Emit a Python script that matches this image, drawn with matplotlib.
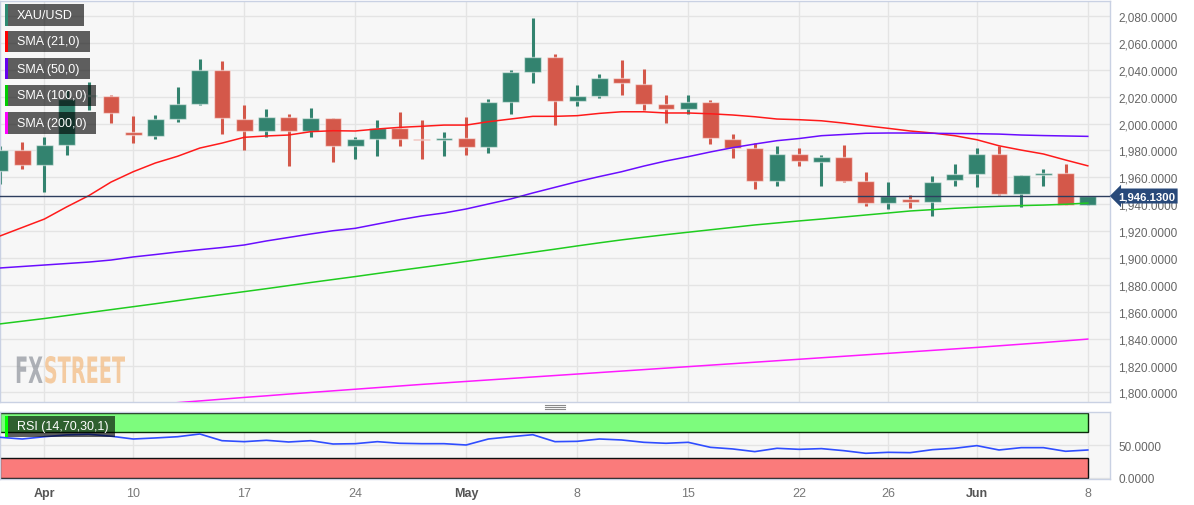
import matplotlib
matplotlib.use("Agg")
import matplotlib.pyplot as plt
from matplotlib.patches import Rectangle, PathPatch
from matplotlib.lines import Line2D
from matplotlib.textpath import TextPath
from matplotlib.font_manager import FontProperties
from matplotlib.transforms import Affine2D, IdentityTransform

# ---------------- data ----------------
dates = ['Mar 30', 'Mar 31', 'Apr 3', 'Apr 4', 'Apr 5', 'Apr 6', 'Apr 10', 'Apr 11', 'Apr 12', 'Apr 13',
         'Apr 14', 'Apr 17', 'Apr 18', 'Apr 19', 'Apr 20', 'Apr 21', 'Apr 24', 'Apr 25', 'Apr 26', 'Apr 27',
         'Apr 28', 'May 1', 'May 2', 'May 3', 'May 4', 'May 5', 'May 8', 'May 9', 'May 10', 'May 11',
         'May 12', 'May 15', 'May 16', 'May 17', 'May 18', 'May 19', 'May 22', 'May 23', 'May 24', 'May 25',
         'May 26', 'May 29', 'May 30', 'May 31', 'Jun 1', 'Jun 2', 'Jun 5', 'Jun 6', 'Jun 7', 'Jun 8']

opens = [1964.7, 1980.0, 1968.9, 1984.2, 2020.3, 2020.3, 1993.8, 1991.1, 2003.5, 2014.6,
         2039.5, 2003.7, 1994.8, 2004.9, 1994.8, 2004.2, 1983.0, 1988.6, 1997.0, 1988.6,
         1987.9, 1989.6, 1982.5, 2016.3, 2038.5, 2049.6, 2016.5, 2020.7, 2033.8, 2029.4,
         2014.6, 2010.6, 2016.1, 1988.6, 1981.5, 1957.5, 1977.5, 1971.6, 1974.8, 1957.0,
         1941.2, 1944.2, 1941.8, 1958.0, 1962.5, 1977.3, 1947.7, 1961.7, 1963.5, 1939.8]
highs = [1983.2, 1986.4, 1989.9, 2024.7, 2030.9, 2021.0, 2005.9, 2006.7, 2027.4, 2048.2,
         2046.7, 2014.1, 2011.1, 2007.4, 2011.9, 2004.4, 1990.4, 2003.0, 2008.9, 2003.0,
         1994.1, 2005.2, 2018.5, 2040.0, 2078.5, 2051.9, 2028.9, 2037.0, 2047.4, 2040.7,
         2021.5, 2021.5, 2017.8, 1992.6, 1985.2, 1983.7, 1981.5, 1977.0, 1984.4, 1963.7,
         1956.5, 1947.1, 1961.0, 1970.1, 1982.2, 1983.2, 1962.0, 1966.0, 1969.6, 1946.5]
lows = [1955.3, 1966.4, 1949.1, 1976.5, 2009.9, 2000.3, 1985.2, 1988.6, 2001.0, 2013.6,
        1991.9, 1980.7, 1990.1, 1968.4, 1989.9, 1971.1, 1973.3, 1975.8, 1983.2, 1973.3,
        1975.8, 1976.5, 1978.0, 2006.9, 2029.9, 1998.8, 2013.3, 2018.8, 2021.0, 2010.4,
        2000.3, 2006.9, 1984.7, 1974.3, 1951.4, 1953.6, 1968.4, 1953.6, 1956.5, 1938.8,
        1936.3, 1937.5, 1931.4, 1953.6, 1952.9, 1946.9, 1938.1, 1953.6, 1939.8, 1939.5]
closes = [1980.0, 1968.9, 1984.0, 2018.3, 2021.0, 2007.7, 1991.4, 2003.5, 2014.6, 2039.5,
          2004.2, 1994.8, 2004.9, 1994.8, 2004.4, 1983.0, 1988.6, 1997.0, 1988.6, 1987.7,
          1989.6, 1982.5, 2016.3, 2038.5, 2049.6, 2016.5, 2020.7, 2033.8, 2029.9, 2014.6,
          2010.6, 2016.1, 1989.1, 1981.7, 1957.5, 1977.5, 1971.9, 1974.8, 1957.0, 1941.2,
          1946.2, 1941.8, 1956.5, 1962.3, 1977.3, 1947.7, 1961.5, 1963.5, 1939.8, 1946.13]

sma21 = [1916.4, 1922.7, 1929.0, 1938.0, 1946.4, 1956.5, 1964.2, 1970.7, 1975.7, 1981.8,
         1985.5, 1989.8, 1990.8, 1991.5, 1994.0, 1994.7, 1994.5, 1996.0, 1997.2, 1998.0,
         1998.9, 1998.9, 2001.4, 2003.4, 2005.4, 2005.4, 2005.9, 2007.6, 2008.8, 2008.8,
         2007.9, 2007.9, 2007.3, 2006.4, 2005.1, 2003.4, 2002.9, 2002.1, 2000.4, 1998.4,
         1996.5, 1994.5, 1993.0, 1991.0, 1988.0, 1983.5, 1980.3, 1977.4, 1972.9, 1968.6]
sma50 = [1892.6, 1893.7, 1894.8, 1895.9, 1897.0, 1898.5, 1900.8, 1902.6, 1904.5, 1906.2,
         1907.8, 1909.7, 1912.7, 1915.3, 1917.9, 1920.3, 1922.1, 1925.3, 1928.5, 1931.3,
         1933.5, 1936.5, 1940.2, 1943.9, 1948.4, 1952.6, 1956.8, 1960.6, 1964.2, 1968.4,
         1972.2, 1975.4, 1978.9, 1982.1, 1984.8, 1987.3, 1988.9, 1991.0, 1991.9, 1992.8,
         1993.0, 1993.0, 1992.8, 1992.6, 1992.5, 1992.2, 1991.5, 1991.1, 1990.8, 1990.5]
sma100 = [1851.0, 1853.0, 1855.0, 1857.2, 1859.4, 1861.6, 1863.8, 1866.0, 1868.3, 1870.6,
          1872.8, 1875.0, 1877.2, 1879.5, 1881.8, 1884.0, 1886.2, 1888.5, 1890.8, 1893.0,
          1895.2, 1897.5, 1899.8, 1902.0, 1904.3, 1906.6, 1909.0, 1911.3, 1913.5, 1915.5,
          1917.4, 1919.2, 1921.0, 1922.8, 1924.6, 1926.1, 1927.6, 1929.0, 1930.5, 1932.0,
          1933.5, 1935.0, 1936.0, 1937.0, 1937.8, 1938.5, 1939.0, 1939.4, 1940.0, 1940.9]
sma200 = [1782.5, 1783.8, 1785.1, 1786.4, 1787.7, 1789.0, 1790.1, 1791.2, 1792.4, 1793.7,
          1795.0, 1796.3, 1797.5, 1798.8, 1800.0, 1801.2, 1802.4, 1803.6, 1804.8, 1806.0,
          1807.1, 1808.2, 1809.3, 1810.4, 1811.5, 1812.6, 1813.7, 1814.8, 1815.9, 1817.0,
          1818.1, 1819.2, 1820.3, 1821.4, 1822.5, 1823.6, 1824.7, 1825.8, 1826.9, 1828.0,
          1829.1, 1830.2, 1831.3, 1832.4, 1833.5, 1834.7, 1835.9, 1837.1, 1838.4, 1839.7]
rsi = [62.3, 59.7, 63.2, 66.0, 67.0, 64.0, 59.7, 61.3, 63.2, 67.4,
       57.1, 55.6, 57.7, 55.1, 57.1, 52.0, 52.5, 55.6, 53.1, 52.5,
       52.5, 50.5, 59.7, 63.2, 66.3, 55.6, 56.1, 59.7, 58.2, 54.6,
       53.1, 54.6, 46.9, 44.4, 40.3, 45.4, 43.8, 44.9, 41.8, 37.7,
       39.2, 38.7, 43.3, 45.4, 49.5, 42.8, 46.4, 46.4, 40.8, 42.8]

tick_dates = ['Apr 3', 'Apr 10', 'Apr 17', 'Apr 24', 'May 1', 'May 8', 'May 15', 'May 22', 'May 26', 'Jun 1', 'Jun 8']
tick_labels = ['Apr', '10', '17', '24', 'May', '8', '15', '22', '26', 'Jun', '8']
bold_labels = ['Apr', 'May', 'Jun']
price_ticks = list(range(1800, 2081, 20))
last_price = 1946.13
legend_items = ['XAU/USD', 'SMA (21,0)', 'SMA (50,0)', 'SMA (100,0)', 'SMA (200,0)']
rsi_label = 'RSI (14,70,30,1)'

# ---------------- style ----------------
W, H = 1194, 506
GREEN = '#33836f'
RED = '#d4584a'
BG = '#f7f7f7'
GRID = '#e4e4e4'
SPINE = '#c9d1e3'
plt.rcParams['font.family'] = ['Liberation Sans', 'DejaVu Sans']

def fx(x):
    return x / W

def fy(y):
    return 1 - y / H

fig = plt.figure(figsize=(W / 100, H / 100), dpi=100)
fig.patch.set_facecolor('white')

ax = fig.add_axes([0, fy(403), fx(1110), 401 / H])
ax2 = fig.add_axes([0, fy(480), fx(1110), 67 / H])

x = list(range(len(dates)))
tick_pos = [dates.index(d) for d in tick_dates]

for a in (ax, ax2):
    a.set_facecolor(BG)
    a.set_xlim(0, 50)
    for s in a.spines.values():
        s.set_color(SPINE)
        s.set_linewidth(1)
    a.set_xticks(tick_pos)
    a.grid(True, color=GRID, linewidth=1)
    a.set_axisbelow(True)
    a.yaxis.tick_right()
    a.tick_params(axis='y', length=0, pad=6, labelsize=8.5, labelcolor='#666666')
    a.tick_params(axis='x', length=0)

# ---- price panel ----
ax.set_ylim(1792.9, 2091.2)
ax.set_yticks(price_ticks)
ax.set_yticklabels([f'{v:,.4f}' for v in price_ticks])
ax.set_xticklabels([])

colors = [GREEN if c >= o else RED for o, c in zip(opens, closes)]
ax.vlines(x, lows, highs, colors=colors, linewidth=2.2, zorder=2)
bottoms = [min(o, c) for o, c in zip(opens, closes)]
heights = [max(abs(c - o), 0.9) for o, c in zip(opens, closes)]
ax.bar(x, heights, bottom=bottoms, width=0.76, color=colors,
       edgecolor=(1, 1, 1, 0.5), linewidth=1.0, zorder=3)

ax.plot(x, sma21, color='#ff1a1a', linewidth=1.1, zorder=4)
ax.plot(x, sma50, color='#6a0dff', linewidth=1.1, zorder=4)
ax.plot(x, sma100, color='#1fcc1f', linewidth=1.1, zorder=4)
ax.plot(x, sma200, color='#ff1aff', linewidth=1.1, zorder=4)

ax.axhline(last_price, color='#2d3e5e', linewidth=1, zorder=5)
ax.text(1.0 + 8 / 1110, last_price, f'{last_price:,.4f}', transform=ax.get_yaxis_transform(),
        ha='left', va='center', color='white', fontsize=8.2, fontweight='bold', zorder=20, clip_on=False,
        bbox=dict(boxstyle='larrow,pad=0.22', facecolor='#28497a', edgecolor='none'))

# ---- RSI panel ----
ax2.set_ylim(-1.8, 101.2)
ax2.set_yticks([0, 50])
ax2.set_yticklabels(['0.0000', '50.0000'])
ax2.set_xticklabels(tick_labels)
ax2.tick_params(axis='x', pad=6, labelsize=9, labelcolor='#777777')
for lbl in ax2.get_xticklabels():
    if lbl.get_text() in bold_labels:
        lbl.set_fontweight('bold')
        lbl.set_color('#555555')
ax2.add_patch(Rectangle((0, 70), x[-1], 30, facecolor='#7dfc7d', edgecolor='#0b2a0b', linewidth=1, zorder=2))
ax2.add_patch(Rectangle((0, 0), x[-1], 30, facecolor='#fa7b7b', edgecolor='#111111', linewidth=1, zorder=2))
ax2.plot(x, rsi, color='#2f4dff', linewidth=1.2, zorder=4)

# ---- legend boxes ----
box_geo = [(5, 5, 79, 22), (5, 32, 85, 21), (5, 59, 85, 21), (5, 86, 91, 21), (5, 113, 91, 22)]
strip_cols = ['#2e8b72', '#ff0000', '#6600ee', '#00cc00', '#ff00ff']
for (bx, by, bw, bh), col, txt in zip(box_geo, strip_cols, legend_items):
    fig.add_artist(Rectangle((fx(bx), fy(by + bh)), bw / W, bh / H, transform=fig.transFigure,
                             facecolor='black', alpha=0.62, edgecolor='none', zorder=10))
    fig.add_artist(Rectangle((fx(bx), fy(by + bh)), 3 / W, bh / H, transform=fig.transFigure,
                             facecolor=col, edgecolor='none', zorder=11))
    fig.text(fx(17), fy(by + bh / 2), txt, color='white', fontsize=9, va='center', ha='left', zorder=12)

fig.add_artist(Rectangle((fx(5), fy(438)), 110 / W, 21 / H, transform=fig.transFigure,
                         facecolor='black', alpha=0.62, edgecolor='none', zorder=10))
fig.add_artist(Rectangle((fx(5), fy(438)), 3 / W, 21 / H, transform=fig.transFigure,
                         facecolor='#00ff00', edgecolor='none', zorder=11))
fig.text(fx(17), fy(427.5), rsi_label, color='white', fontsize=9, va='center', ha='left', zorder=12)

# ---- watermark (condensed text drawn as paths) ----
fp = FontProperties(family='DejaVu Sans', weight='bold')
p_fx = TextPath((0, 0), 'FX', size=10, prop=fp)
p_st = TextPath((0, 0), 'STREET', size=10, prop=fp)
ext_fx = p_fx.get_extents()
ext_st = p_st.get_extents()
gap = 0.6
total_w = ext_fx.x1 + gap + ext_st.x1
cap_h = ext_st.y1
sx = 110 / total_w
sy = 27 / cap_h
x0_px, base_px = 15, H - 384
t_fx = Affine2D().scale(sx, sy).translate(x0_px, base_px)
t_st = Affine2D().translate(ext_fx.x1 + gap, 0).scale(sx, sy).translate(x0_px, base_px)
fig.add_artist(PathPatch(t_fx.transform_path(p_fx), transform=IdentityTransform(),
                         facecolor='#8e939b', edgecolor='none', alpha=0.7, zorder=1))
fig.add_artist(PathPatch(t_st.transform_path(p_st), transform=IdentityTransform(),
                         facecolor='#f3bd85', edgecolor='none', alpha=0.75, zorder=1))

# ---- splitter handle ----
for yy in (406, 408, 410):
    fig.add_artist(Line2D([fx(545), fx(565)], [fy(yy), fy(yy)], transform=fig.transFigure,
                          color='#8a8a8a', linewidth=0.8))

fig.savefig('out.png', dpi=100, facecolor='white')
